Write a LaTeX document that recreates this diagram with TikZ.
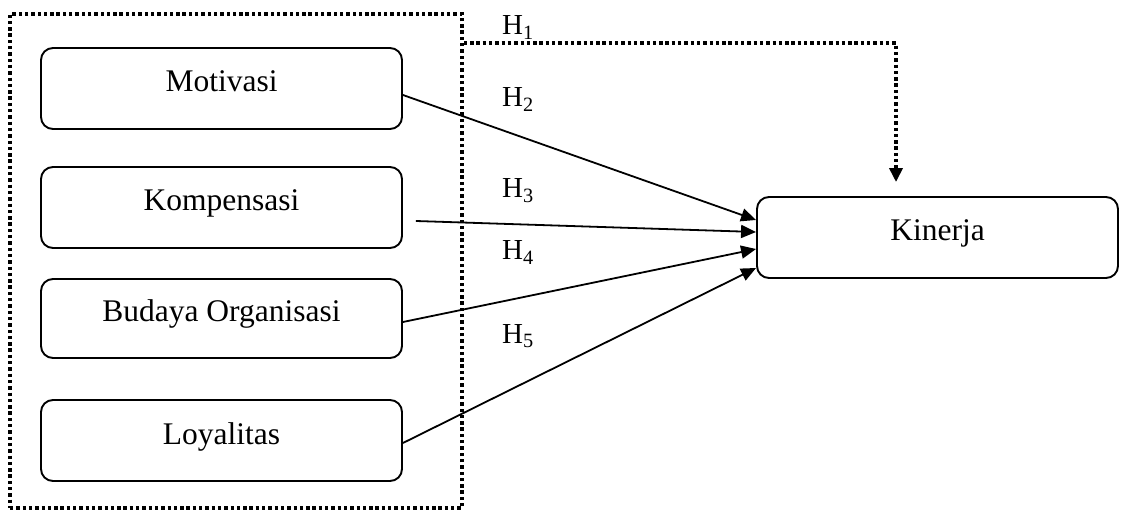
\documentclass[tikz,border=0pt]{standalone}
\usepackage{fontspec}
\setmainfont{Liberation Serif}
\usetikzlibrary{arrows.meta,calc}
\begin{document}
\begin{tikzpicture}[x=1pt,y=-1pt,
  varbox/.style={draw,line width=1.9pt,rounded corners=12pt,minimum width=361pt,
    minimum height=81pt,inner sep=0pt,font=\fontsize{31.5}{36}\selectfont,
    text height=17.5pt,text depth=10.5pt},
  dotline/.style={line width=3.6pt,dash pattern=on 3.4pt off 2.9pt},
  hlabel/.style={anchor=base west,inner sep=0pt,font=\fontsize{29}{32}\selectfont},
  link/.style={line width=1.8pt,-{Triangle[length=15pt,width=13pt]}},
  dotlink/.style={dotline,-{Triangle[length=14pt,width=13pt]}}]
\useasboundingbox (0,0) rectangle (1126,510);
\fill[white] (0,0) rectangle (1126,510);
% group box
\node[draw,dotline,minimum width=452pt,minimum height=494pt,inner sep=0pt] (grp) at (236,261) {};
% variable boxes
\node[varbox] (mot) at (221.5,88.5) {Motivasi};
\node[varbox] (komp) at (221.5,207.5) {Kompensasi};
\node[varbox,minimum height=79pt] (bud) at (221.5,318.5) {Budaya Organisasi};
\node[varbox] (loy) at (221.5,440.5) {Loyalitas};
\node[varbox] (kin) at (937.5,237.5) {Kinerja};
% H1 connector
\coordinate (h1s) at ($(grp.north east)+(0,31)$);
\coordinate (h1e) at ($(kin.north)+(-41.5,-14)$);
\draw[dotlink] (h1s) -| (h1e);
% arrows
\draw[link] ($(mot.east)+(0,6.5)$) -- ($(kin.west)+(0,-17.5)$);
\draw[link] ($(komp.east)+(13,13.5)$) -- ($(kin.west)+(0,-5.5)$);
\draw[link] ($(bud.east)+(0,3.5)$) -- ($(kin.west)+(0,11.5)$);
\draw[link] ($(loy.east)+(0,2.5)$) -- ($(kin.west)+(0,30.5)$);
% labels
\node[hlabel] (l1) at (502,35) {H\textsubscript{1}};
\node[hlabel] (l2) at (502,107) {H\textsubscript{2}};
\node[hlabel] (l3) at (502,198) {H\textsubscript{3}};
\node[hlabel] (l4) at (502,260) {H\textsubscript{4}};
\node[hlabel] (l5) at (502,343) {H\textsubscript{5}};
\end{tikzpicture}
\end{document}
